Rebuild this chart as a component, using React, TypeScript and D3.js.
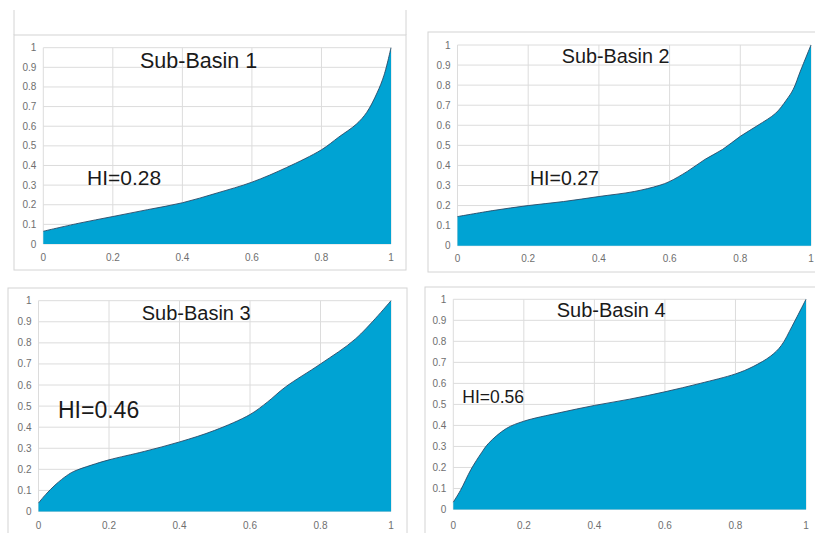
import * as d3 from "d3"

// hypsometric curves (relative area vs relative height)
const basin1X = [0, 0.1, 0.2, 0.3, 0.4, 0.5, 0.6, 0.7, 0.8, 0.85, 0.9, 0.93, 0.96, 0.98, 1]
const basin1Y = [0.065, 0.105, 0.14, 0.175, 0.21, 0.26, 0.315, 0.39, 0.48, 0.545, 0.61, 0.67, 0.77, 0.86, 1]

const basin2X = [0, 0.1, 0.2, 0.3, 0.4, 0.5, 0.57, 0.6, 0.65, 0.7, 0.75, 0.8, 0.85, 0.9, 0.93, 0.95, 0.97, 1]
const basin2Y = [0.145, 0.175, 0.2, 0.22, 0.245, 0.27, 0.3, 0.32, 0.37, 0.43, 0.48, 0.545, 0.6, 0.66, 0.725, 0.78, 0.87, 1]

const basin3X = [0, 0.02, 0.05, 0.08, 0.1, 0.15, 0.2, 0.3, 0.4, 0.5, 0.6, 0.65, 0.7, 0.8, 0.9, 1]
const basin3Y = [0.04, 0.08, 0.13, 0.17, 0.19, 0.22, 0.245, 0.285, 0.33, 0.385, 0.46, 0.52, 0.59, 0.7, 0.82, 1]

const basin4X = [0, 0.02, 0.05, 0.08, 0.1, 0.15, 0.2, 0.3, 0.4, 0.5, 0.6, 0.7, 0.8, 0.85, 0.9, 0.93, 0.96, 1]
const basin4Y = [0.035, 0.09, 0.19, 0.27, 0.315, 0.385, 0.42, 0.46, 0.495, 0.525, 0.56, 0.6, 0.645, 0.68, 0.73, 0.78, 0.87, 1]

const titles = ["Sub-Basin 1", "Sub-Basin 2", "Sub-Basin 3", "Sub-Basin 4"]
const hiLabels = ["HI=0.28", "HI=0.27", "HI=0.46", "HI=0.56"]

const xTicks = [0, 0.2, 0.4, 0.6, 0.8, 1]
const yTicks = [0, 0.1, 0.2, 0.3, 0.4, 0.5, 0.6, 0.7, 0.8, 0.9, 1]

const series = [
  [basin1X, basin1Y],
  [basin2X, basin2Y],
  [basin3X, basin3Y],
  [basin4X, basin4Y],
]

// where each little chart sits on the page
const panels = [
  { frame: [14, 35, 406, 270], plot: [43.3, 47.7, 391, 244], title: [140, 68, 21.5], hi: [87, 185, 21], xlab: 13 },
  { frame: [428, 32, 816, 272], plot: [457.5, 45, 811, 245.7], title: [561.7, 63.3, 19.8], hi: [530, 185, 19.5], xlab: 13 },
  { frame: [8, 288, 407, 540], plot: [38.5, 300.7, 391, 511.5], title: [141.7, 320, 20], hi: [58, 418, 23], xlab: 14 },
  { frame: [425, 287, 816, 540], plot: [453.3, 299.3, 806, 509.5], title: [556.7, 316.7, 20], hi: [462.3, 403, 17.5], xlab: 16 },
]

const fmt = (v: number) => (v === 0 || v === 1 ? String(v) : d3.format(".1f")(v))

function Panel({ idx }: { idx: number }) {
  const p = panels[idx]
  const [xs, ys] = series[idx]
  const pts = xs.map((x, i) => [x, ys[i]] as [number, number])
  const x = d3.scaleLinear().domain([0, 1]).range([p.plot[0], p.plot[2]])
  const y = d3.scaleLinear().domain([0, 1]).range([p.plot[3], p.plot[1]])

  const curve = d3.curveCatmullRom.alpha(0.5)
  const area = d3
    .area<[number, number]>()
    .x((d) => x(d[0]))
    .y0(y(0))
    .y1((d) => y(d[1]))
    .curve(curve)
  const line = d3
    .line<[number, number]>()
    .x((d) => x(d[0]))
    .y((d) => y(d[1]))
    .curve(curve)

  const [fx0, fy0, fx1, fy1] = p.frame
  return (
    <g>
      <rect x={fx0} y={fy0} width={fx1 - fx0} height={fy1 - fy0} fill="#ffffff" stroke="#d4d4d4" strokeWidth={1} />
      {xTicks.map((t) => (
        <line key={"gx" + t} x1={x(t)} x2={x(t)} y1={y(0)} y2={y(1)} stroke="#dcdcdc" strokeWidth={1} />
      ))}
      {yTicks.map((t) => (
        <line key={"gy" + t} x1={x(0)} x2={x(1)} y1={y(t)} y2={y(t)} stroke="#dcdcdc" strokeWidth={1} />
      ))}
      <path d={area(pts) || ""} fill="#00a3d3" />
      <path d={line(pts) || ""} fill="none" stroke="#2a4a66" strokeWidth={0.9} />
      {yTicks.map((t) => (
        <text key={"ty" + t} x={x(0) - 7} y={y(t)} dy="0.35em" textAnchor="end" fontSize={10} fill="#6f6f6f">
          {fmt(t)}
        </text>
      ))}
      {xTicks.map((t) => (
        <text key={"tx" + t} x={x(t)} y={y(0) + p.xlab} dy="0.35em" textAnchor="middle" fontSize={10} fill="#6f6f6f">
          {fmt(t)}
        </text>
      ))}
      <text x={p.title[0]} y={p.title[1]} fontSize={p.title[2]} fill="#1a1a1a">
        {titles[idx]}
      </text>
      <text x={p.hi[0]} y={p.hi[1]} fontSize={p.hi[2]} fill="#1a1a1a">
        {hiLabels[idx]}
      </text>
    </g>
  )
}

export default function App() {
  return (
    <svg
      width={815}
      height={533}
      style={{ position: "absolute", left: 0, top: 0, background: "#ffffff", fontFamily: "'Liberation Sans', Arial, sans-serif" }}
    >
      {/* faint outline above the first chart */}
      <line x1={14} x2={14} y1={10} y2={35} stroke="#d4d4d4" />
      <line x1={406} x2={406} y1={10} y2={35} stroke="#d4d4d4" />
      {panels.map((_, i) => (
        <Panel key={i} idx={i} />
      ))}
    </svg>
  )
}
